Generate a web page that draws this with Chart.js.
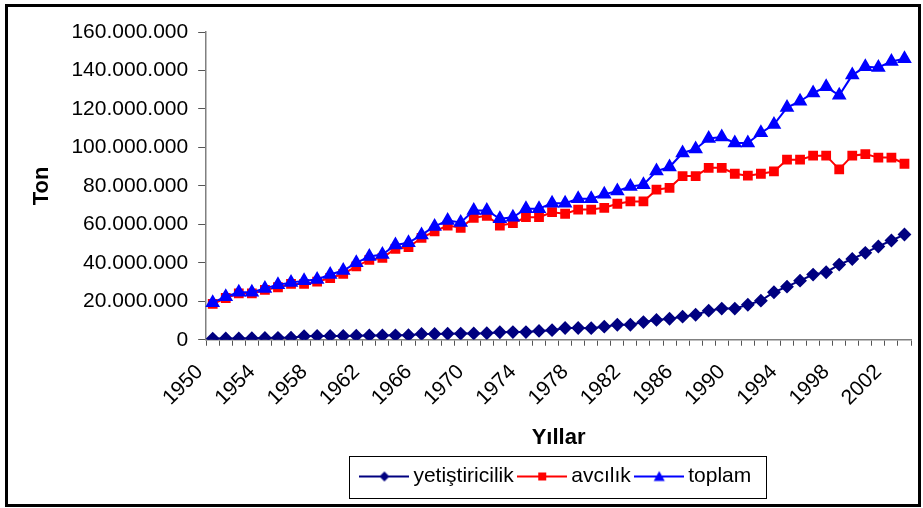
<!DOCTYPE html>
<html>
<head>
<meta charset="utf-8">
<script src="https://cdn.jsdelivr.net/npm/chart.js@4.4.1/dist/chart.umd.min.js"></script>
<style>
  html, body { margin: 0; padding: 0; background: #fff; }
</style>
</head>
<body>
<canvas id="chart" width="923" height="508"></canvas>
<script>
// values in million tonnes, 1950-2003
const years = ['1950','1951','1952','1953','1954','1955','1956','1957','1958','1959',
  '1960','1961','1962','1963','1964','1965','1966','1967','1968','1969',
  '1970','1971','1972','1973','1974','1975','1976','1977','1978','1979',
  '1980','1981','1982','1983','1984','1985','1986','1987','1988','1989',
  '1990','1991','1992','1993','1994','1995','1996','1997','1998','1999',
  '2000','2001','2002','2003'];

const yetistiricilik = [0.6, 0.7, 0.7, 0.8, 0.9, 1.0, 1.1, 1.8, 2.0, 2.0,
  2.0, 2.1, 2.2, 2.2, 2.3, 2.4, 3.0, 3.0, 3.1, 3.2,
  3.3, 3.4, 3.9, 4.0, 4.0, 4.6, 5.0, 6.1, 6.1, 6.0,
  6.8, 7.8, 7.8, 9.2, 10.3, 10.9, 12.0, 13.0, 15.1, 16.2,
  16.2, 18.2, 20.3, 24.7, 27.6, 30.7, 33.9, 35.1, 39.1, 42.0,
  45.2, 48.5, 51.6, 54.7];

const avcilik = [18.6, 21.7, 24.1, 24.1, 25.9, 27.3, 29.0, 29.0, 30.2, 32.1,
  34.2, 38.2, 41.5, 42.6, 47.3, 48.1, 53.0, 56.3, 59.4, 58.2,
  63.4, 64.4, 59.4, 60.6, 63.7, 63.7, 66.3, 65.5, 67.7, 67.7,
  68.6, 70.7, 71.9, 71.9, 78.0, 79.0, 85.1, 85.1, 89.4, 89.4,
  86.3, 85.3, 86.3, 87.5, 93.6, 93.6, 95.7, 95.7, 88.6, 95.7,
  96.5, 94.7, 94.7, 91.5];

const toplam = [19.3, 22.4, 24.7, 24.7, 26.7, 28.6, 29.7, 30.7, 31.3, 33.9,
  36.0, 40.0, 43.3, 44.3, 49.3, 50.4, 54.5, 58.9, 62.0, 61.0,
  67.2, 67.2, 62.9, 63.7, 68.1, 68.1, 71.0, 71.0, 73.3, 73.3,
  75.6, 77.3, 79.7, 80.6, 87.7, 89.8, 97.1, 99.2, 104.6, 105.4,
  102.3, 102.3, 107.6, 111.9, 120.7, 124.0, 128.3, 131.5, 127.1, 137.6,
  141.9, 141.6, 144.7, 146.1];

const FONT = "Arial, 'Liberation Sans', sans-serif";
Chart.defaults.font.family = FONT;
Chart.defaults.color = '#000';

// little "line + marker" icons for the legend
function legendIcon(color, shape) {
  const c = document.createElement('canvas');
  c.width = 50; c.height = 14;
  const g = c.getContext('2d');
  g.strokeStyle = color; g.fillStyle = color; g.lineWidth = 2;
  g.beginPath(); g.moveTo(0, 7); g.lineTo(50, 7); g.stroke();
  g.beginPath();
  if (shape === 'diamond') { g.moveTo(25, 2); g.lineTo(30, 7); g.lineTo(25, 12); g.lineTo(20, 7); }
  else if (shape === 'square') { g.rect(21, 3, 8, 8); }
  else { g.moveTo(25, 1.5); g.lineTo(30.5, 11.5); g.lineTo(19.5, 11.5); }
  g.closePath(); g.fill();
  return c;
}
const icons = [legendIcon('#000080', 'diamond'), legendIcon('#ff0000', 'square'), legendIcon('#0000ff', 'triangle')];

const thousands = v => String(v).replace(/\B(?=(\d{3})+(?!\d))/g, '.');

// centre legend under the plot, box around it, outer frame
const framePlugin = {
  id: 'frame',
  beforeDraw(chart) {
    const lg = chart.legend, a = chart.chartArea;
    lg.left = a.left; lg.right = a.right; lg.width = a.right - a.left;
  },
  afterDraw(chart) {
    const ctx = chart.ctx, lg = chart.legend;
    const pad = lg.options.labels.padding;
    const w = lg.lineWidths[0] - pad;
    const x0 = (lg.left + lg.right - w) / 2;
    const y0 = lg.top + pad;
    ctx.save();
    ctx.strokeStyle = '#000';
    ctx.lineWidth = 1;
    ctx.strokeRect(Math.round(x0 - 17) + 0.5, Math.round(y0 - 10.5) + 0.5, Math.round(w + 32), 42);
    ctx.lineWidth = 3;
    ctx.strokeRect(6.5, 5.5, 913, 500);
    ctx.restore();
  }
};

new Chart(document.getElementById('chart'), {
  type: 'line',
  data: {
    labels: years,
    datasets: [
      {
        label: 'yetiştiricilik',
        data: yetistiricilik.map(v => v * 1e6),
        borderColor: '#000080', backgroundColor: '#000080',
        borderWidth: 2, pointStyle: 'rectRot', pointRadius: 5.5, order: 2
      },
      {
        label: 'avcılık',
        data: avcilik.map(v => v * 1e6),
        borderColor: '#ff0000', backgroundColor: '#ff0000',
        borderWidth: 2, pointStyle: 'rect', pointRadius: 5.5, order: 1
      },
      {
        label: 'toplam',
        data: toplam.map(v => v * 1e6),
        borderColor: '#0000ff', backgroundColor: '#0000ff',
        borderWidth: 2, pointStyle: 'triangle', pointRadius: 6.5, order: 0
      }
    ]
  },
  options: {
    responsive: false,
    animation: false,
    devicePixelRatio: 1,
    layout: { padding: { left: 12, right: 12, top: 32, bottom: 11 } },
    scales: {
      x: {
        offset: true,
        afterFit: s => { s.paddingRight = 0; },
        grid: { offset: true, drawOnChartArea: false, tickLength: 6, color: '#555' },
        border: { color: '#808080', width: 1.5 },
        ticks: {
          autoSkip: false, minRotation: 45, maxRotation: 45,
          font: { size: 21 }, color: '#000', padding: 14, labelOffset: -13,
          callback: (val, i) => (i % 4 === 0 ? years[i] : '')
        },
        title: { display: true, text: 'Yıllar', font: { size: 22, weight: 'bold' }, color: '#000', padding: { top: 0, bottom: 5 } }
      },
      y: {
        min: 0, max: 160e6,
        grid: { drawOnChartArea: false, tickLength: 8, color: '#555' },
        border: { color: '#808080', width: 1.5 },
        ticks: { stepSize: 20e6, font: { size: 21 }, color: '#000', padding: 10, callback: v => thousands(v) },
        title: { display: true, text: 'Ton', font: { size: 22, weight: 'bold' }, color: '#000', padding: { top: 17, bottom: 6 } }
      }
    },
    plugins: {
      tooltip: { enabled: false },
      legend: {
        position: 'bottom',
        labels: {
          usePointStyle: true, pointStyleWidth: 37, padding: 10,
          font: { size: 21 }, color: '#000',
          sort: (a, b) => a.datasetIndex - b.datasetIndex,
          generateLabels: chart => Chart.defaults.plugins.legend.labels.generateLabels(chart)
            .map(item => Object.assign(item, { pointStyle: icons[item.datasetIndex] }))
        }
      }
    }
  },
  plugins: [framePlugin]
});
</script>
</body>
</html>
